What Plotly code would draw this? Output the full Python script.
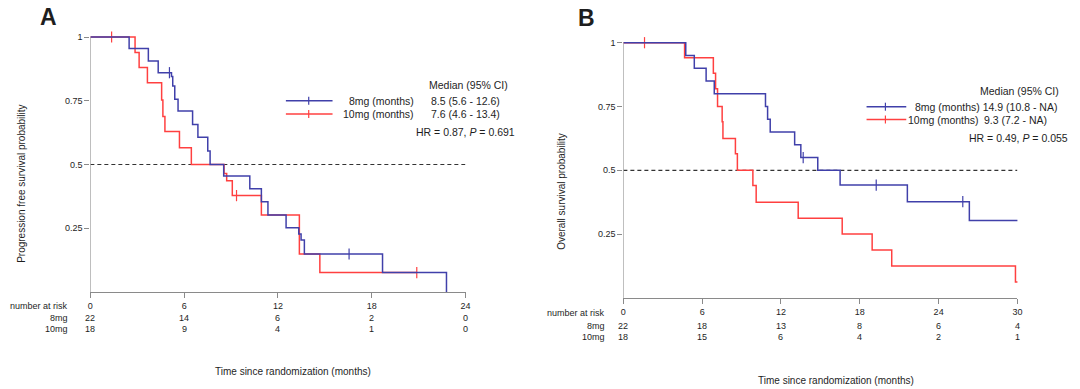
import plotly.graph_objects as go

W, H = 1080, 389
FONT = "Liberation Sans, Arial, sans-serif"
TXT = "#1e1e1e"
BLUE = "#4040aa"
RED = "#ff4040"
AXC = "#8a8a8a"

# ---------------- Panel A: progression free survival ----------------
a_blue_t = [0, 2.48, 3.71, 4.34, 5.19, 5.27, 5.40, 5.61, 6.54, 6.88, 7.51, 7.66, 8.53,
            10.2, 10.94, 11.36, 12.52, 13.33, 13.48, 13.69, 18.69, 22.78]
a_blue_s = [1, 0.955, 0.906, 0.86, 0.845, 0.808, 0.756, 0.71, 0.657, 0.607, 0.553, 0.5, 0.455,
            0.405, 0.354, 0.302, 0.252, 0.227, 0.204, 0.149, 0.076, 0]
a_blue_cens_t = [5.06, 16.55]
a_blue_cens_s = [0.86, 0.149]

a_red_t = [0, 2.86, 3.12, 3.65, 4.56, 4.64, 4.77, 5.70, 6.46, 8.55, 8.72, 9.08, 10.94, 13.37, 14.68, 20.88]
a_red_s = [1, 0.939, 0.88, 0.821, 0.753, 0.688, 0.629, 0.566, 0.5, 0.465, 0.436, 0.378, 0.302, 0.149, 0.076, 0.076]
a_red_cens_t = [1.36, 9.35, 20.88]
a_red_cens_s = [1, 0.378, 0.076]

a_ticks = [0, 6, 12, 18, 24]
a_risk_8mg = [22, 14, 6, 2, 0]
a_risk_10mg = [18, 9, 4, 1, 0]
a_legend_rows = ["8mg (months)", "10mg (months)"]
a_legend_vals = ["8.5 (5.6 - 12.6)", "7.6 (4.6 - 13.4)"]
a_hr = "HR = 0.87, <i>P</i> = 0.691"
a_ytitle = "Progression free survival probability"

# ---------------- Panel B: overall survival ----------------
b_blue_t = [0, 4.75, 5.40, 6.30, 6.92, 10.82, 10.98, 11.18, 13.04, 13.51, 14.80, 16.50, 21.62, 26.34, 30.15]
b_blue_s = [1, 0.95, 0.90, 0.85, 0.80, 0.75, 0.70, 0.65, 0.60, 0.55, 0.50, 0.442, 0.377, 0.303, 0.303]
b_blue_cens_t = [13.69, 19.25, 25.84, 30.15]
b_blue_cens_s = [0.55, 0.442, 0.377, 0.303]

b_red_t = [0, 4.66, 6.85, 7.02, 7.17, 7.52, 7.58, 8.53, 8.68, 9.86, 10.11, 13.31, 16.66, 18.94, 20.43, 29.85, 30.2]
b_red_s = [1, 0.941, 0.88, 0.82, 0.75, 0.69, 0.625, 0.565, 0.5, 0.44, 0.375, 0.3125, 0.25, 0.1875, 0.125, 0.0625, 0.0625]
b_red_cens_t = [1.61, 30.2]
b_red_cens_s = [1, 0.0625]

b_ticks = [0, 6, 12, 18, 24, 30]
b_risk_8mg = [22, 18, 13, 8, 6, 4]
b_risk_10mg = [18, 15, 6, 4, 2, 1]
b_legend_row1 = "8mg (months) 14.9 (10.8 - NA)"
b_legend_row2_label = "10mg (months)"
b_legend_row2_val = "9.3 (7.2 - NA)"
b_hr = "HR = 0.49, <i>P</i> = 0.055"
b_ytitle = "Overall survival probability"

y_ticks = [0.25, 0.5, 0.75, 1]
y_ticktext = ["0.25", "0.5", "0.75", "1"]
median_level = 0.5
x_title = "Time since randomization (months)"


def px(v):
    return v / W


def py(v):
    return 1 - v / H


fig = go.Figure()


def add_panel(xa, ya, xmax, bt, bs, bct, bcs, rt, rs, rct, rcs):
    fig.add_trace(go.Scatter(x=[0, xmax], y=[median_level, median_level], mode="lines",
                             line=dict(color="#333333", width=1.2, dash="4px,3px"),
                             xaxis=xa, yaxis=ya, showlegend=False, hoverinfo="skip"))
    for t, s, ct, cs, col in [(rt, rs, rct, rcs, RED), (bt, bs, bct, bcs, BLUE)]:
        fig.add_trace(go.Scatter(x=t, y=s, mode="lines", line=dict(color=col, width=1.5, shape="hv"),
                                 xaxis=xa, yaxis=ya, showlegend=False, cliponaxis=False))
        fig.add_trace(go.Scatter(x=ct, y=cs, mode="markers", cliponaxis=False,
                                 marker=dict(symbol="line-ns-open", size=8, color=col,
                                             line=dict(color=col, width=1.2)),
                                 xaxis=xa, yaxis=ya, showlegend=False))


add_panel("x", "y", 24, a_blue_t, a_blue_s, a_blue_cens_t, a_blue_cens_s,
          a_red_t, a_red_s, a_red_cens_t, a_red_cens_s)
add_panel("x2", "y2", 30, b_blue_t, b_blue_s, b_blue_cens_t, b_blue_cens_s,
          b_red_t, b_red_s, b_red_cens_t, b_red_cens_s)

tickfont = dict(family=FONT, size=9, color=TXT)


def xaxis_cfg(domain, xmax, ticks, anchor):
    return dict(domain=domain, range=[0, xmax], tickvals=ticks, ticktext=[str(t) for t in ticks],
                showline=True, linecolor=AXC, linewidth=1, ticks="outside", ticklen=5,
                tickcolor=AXC, showgrid=False, zeroline=False, tickfont=tickfont, anchor=anchor)


def yaxis_cfg(domain, anchor):
    return dict(domain=domain, range=[0, 1.03], tickvals=y_ticks, ticktext=y_ticktext,
                showline=False, ticks="outside", ticklen=5, tickcolor=AXC,
                showgrid=False, zeroline=False, tickfont=tickfont, anchor=anchor)


fig.update_layout(
    xaxis=xaxis_cfg([px(88), px(466)], 24, a_ticks, "y"),
    yaxis=yaxis_cfg([py(292), py(292 - 255 * 1.03)], "x"),
    xaxis2=xaxis_cfg([px(625), px(1022)], 30, b_ticks, "y2"),
    yaxis2=yaxis_cfg([py(297.9), py(297.9 - 255.2 * 1.03)], "x2"),
)

shapes = []
shapes.append(dict(type="line", xref="x", yref="y", x0=0, x1=0, y0=0, y1=1, line=dict(color=AXC, width=1)))
shapes.append(dict(type="line", xref="x2", yref="y2", x0=0, x1=0, y0=0, y1=1, line=dict(color=AXC, width=1)))

annotations = []


def ann(x, y, text, size=10, xanchor="center", yanchor="middle", xref="paper", **kw):
    annotations.append(dict(x=x, y=y, xref=xref, yref="paper", text=text, showarrow=False,
                            xanchor=xanchor, yanchor=yanchor,
                            font=dict(family=FONT, size=size, color=TXT), **kw))


ann(px(46), py(17), "<b>A</b>", size=23)
ann(px(588), py(18.5), "<b>B</b>", size=23)

ann(px(18), py(184), a_ytitle, size=10, textangle=-90)
ann(px(562), py(191), b_ytitle, size=10, textangle=-90)

ann(px(292), py(371), x_title, size=10)
ann(px(839), py(380.5), x_title, size=10)

ann(px(68), py(305.7), "number at risk", size=9, xanchor="right")
ann(px(68), py(318.3), "8mg", size=9, xanchor="right")
ann(px(68), py(329.3), "10mg", size=9, xanchor="right")
for t, n8, n10 in zip(a_ticks, a_risk_8mg, a_risk_10mg):
    ann(t, py(318.3), str(n8), size=9, xref="x")
    ann(t, py(329.3), str(n10), size=9, xref="x")

ann(px(608.5), py(312.5), "number at risk", size=9, xanchor="right")
ann(px(608.5), py(325.6), "8mg", size=9, xanchor="right")
ann(px(608.5), py(336.7), "10mg", size=9, xanchor="right")
for t, n8, n10 in zip(b_ticks, b_risk_8mg, b_risk_10mg):
    ann(t, py(325.6), str(n8), size=9, xref="x2")
    ann(t, py(336.7), str(n10), size=9, xref="x2")

# legend A
ann(px(427), py(85), "Median (95% CI)", size=10.5, xanchor="left")
ann(px(416.5), py(100.7), a_legend_rows[0], size=10.5, xanchor="right")
ann(px(416.5), py(114), a_legend_rows[1], size=10.5, xanchor="right")
ann(px(429), py(100.7), a_legend_vals[0], size=10.5, xanchor="left")
ann(px(429), py(114), a_legend_vals[1], size=10.5, xanchor="left")
ann(px(414), py(131.7), a_hr, size=10.5, xanchor="left")
for yy, col in [(100.7, BLUE), (114, RED)]:
    shapes.append(dict(type="line", xref="paper", yref="paper", x0=px(285), x1=px(332),
                       y0=py(yy), y1=py(yy), line=dict(color=col, width=1.5)))
    shapes.append(dict(type="line", xref="paper", yref="paper", x0=px(308), x1=px(308),
                       y0=py(yy - 4), y1=py(yy + 4), line=dict(color=col, width=1.2)))

# legend B
ann(px(982.7), py(91), "Median (95% CI)", size=10.5, xanchor="left")
ann(px(916.7), py(106.7), b_legend_row1, size=10.5, xanchor="left")
ann(px(910), py(119.5), b_legend_row2_label, size=10.5, xanchor="left")
ann(px(986.7), py(119.5), b_legend_row2_val, size=10.5, xanchor="left")
ann(px(971), py(137.5), b_hr, size=10.5, xanchor="left")
for yy, col in [(106.7, BLUE), (119.5, RED)]:
    shapes.append(dict(type="line", xref="paper", yref="paper", x0=px(870), x1=px(910),
                       y0=py(yy), y1=py(yy), line=dict(color=col, width=1.5)))
    shapes.append(dict(type="line", xref="paper", yref="paper", x0=px(889), x1=px(889),
                       y0=py(yy - 4), y1=py(yy + 4), line=dict(color=col, width=1.2)))

fig.update_layout(width=W, height=H, margin=dict(l=0, r=0, t=0, b=0),
                  paper_bgcolor="white", plot_bgcolor="white",
                  font=dict(family=FONT, color=TXT),
                  shapes=shapes, annotations=annotations, showlegend=False)

fig.write_html("out.html", config={"displayModeBar": False},
               post_script="document.body.style.margin='0';document.body.style.padding='0';"
                           "document.body.style.overflow='hidden';")
